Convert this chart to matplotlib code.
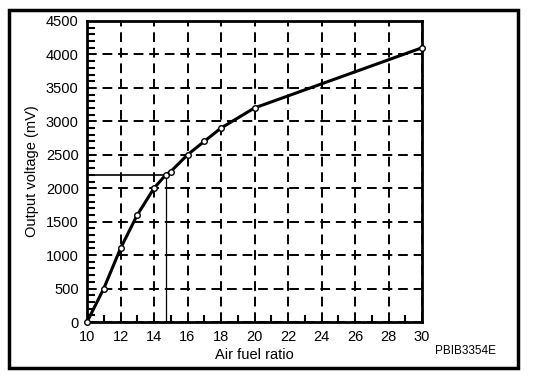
import matplotlib
matplotlib.use("Agg")
import matplotlib.pyplot as plt
from matplotlib.patches import Rectangle
from matplotlib.ticker import MultipleLocator

plt.rcParams["font.family"] = ["Liberation Sans", "DejaVu Sans"]

# curve
afr = [10, 11, 12, 13, 14, 14.7, 15, 16, 17, 18, 20, 30]
mv = [0, 500, 1100, 1600, 2000, 2200, 2250, 2500, 2700, 2900, 3200, 4100]

# stoichiometric reference point
ref_x = 14.7
ref_y = 2200

fig = plt.figure(figsize=(5.44, 3.82), dpi=100)
ax = fig.add_axes([87 / 544, 60 / 382, 335 / 544, 301 / 382])

# outer frame
fig.patches.append(Rectangle((9 / 544, 14 / 382), 509 / 544, 358 / 382,
                             transform=fig.transFigure, fill=False,
                             edgecolor="black", lw=2.5))

ax.set_xlim(10, 30)
ax.set_ylim(0, 4500)
ax.xaxis.set_major_locator(MultipleLocator(2))
ax.xaxis.set_minor_locator(MultipleLocator(1))
ax.yaxis.set_major_locator(MultipleLocator(500))
ax.yaxis.set_minor_locator(MultipleLocator(100))
ax.tick_params(which="both", direction="in", width=1.5, color="black")
ax.tick_params(which="major", length=0, labelsize=10.5)
ax.tick_params(axis="y", which="major", pad=6)
ax.tick_params(axis="x", which="major", pad=6)
ax.tick_params(axis="y", which="minor", length=6)
ax.tick_params(axis="x", which="minor", length=5)
ax.grid(True, which="major", color="black", ls=(0, (5, 3)), lw=1.4)
for s in ax.spines.values():
    s.set_linewidth(2)

ax.plot([10, ref_x], [ref_y, ref_y], color="black", lw=1.2)
ax.plot([ref_x, ref_x], [0, ref_y], color="black", lw=0.9)

ax.plot(afr, mv, color="black", lw=2.2, marker="o", ms=4,
        mfc="white", mec="black", mew=1, zorder=5, clip_on=False)

ax.set_xlabel("Air fuel ratio", fontsize=10.5, labelpad=2.5)
ax.set_ylabel("Output voltage (mV)", fontsize=10.5, labelpad=5)

fig.text(496 / 544, 31 / 382, "PBIB3354E", fontsize=8.5, ha="right", va="center")

fig.savefig("out.png", dpi=100)
